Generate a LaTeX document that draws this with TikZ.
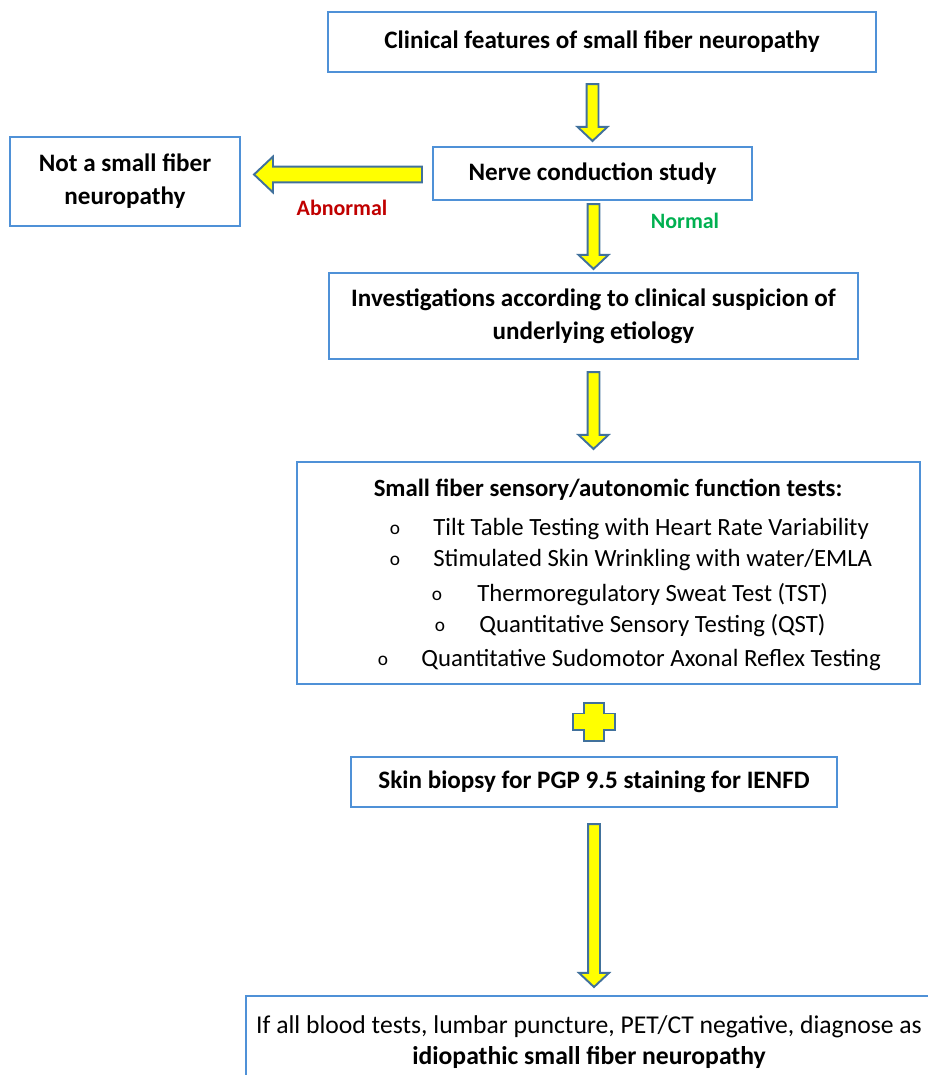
\documentclass[tikz,border=0pt]{standalone}
\usepackage{fontspec}
\setmainfont{Carlito}
\usetikzlibrary{positioning,calc}

\definecolor{boxblue}{RGB}{79,145,215}
\definecolor{arrowblue}{RGB}{65,113,156}
\definecolor{arrowyellow}{RGB}{255,255,0}
\definecolor{abnred}{RGB}{192,0,0}
\definecolor{normgreen}{RGB}{0,176,80}

\tikzset{
  stepbox/.style={draw=boxblue, line width=1.2pt, align=center, inner sep=2pt,
    font=\fontsize{14.3}{18.7}\selectfont\bfseries},
  blockarrow/.style={draw=arrowblue, fill=arrowyellow, line width=1.1pt, line join=miter},
  itemtxt/.style={anchor=base west, inner sep=0pt, font=\fontsize{14.1}{17}\selectfont},
  bullet/.style={anchor=base, inner sep=0pt, font=\fontsize{11}{13}\selectfont},
}

% yellow block arrow pointing down, #1 = top, #2 = tip
\newcommand\blockdown[2]{%
  \filldraw[blockarrow] let \p1=(#1), \p2=(#2) in
    (\x2-3.4pt,\y1) -- (\x2+3.4pt,\y1) -- (\x2+3.4pt,\y2+8pt) -- (\x2+8.5pt,\y2+8pt)
    -- (\x2,\y2) -- (\x2-8.5pt,\y2+8pt) -- (\x2-3.4pt,\y2+8pt) -- cycle;}
% yellow block arrow pointing left, #1 = tail, #2 = tip
\newcommand\blockleft[2]{%
  \filldraw[blockarrow] let \p1=(#1), \p2=(#2) in
    (\x1,\y1+4.5pt) -- (\x2+10.8pt,\y1+4.5pt) -- (\x2+10.8pt,\y1+10.2pt) -- (\x2,\y1)
    -- (\x2+10.8pt,\y1-10.2pt) -- (\x2+10.8pt,\y1-4.5pt) -- (\x1,\y1-4.5pt) -- cycle;}

\begin{document}
\begin{tikzpicture}[x=0.02cm, y=-0.02cm]
\useasboundingbox (0,0) rectangle (928,1075);
\clip (0,0) rectangle (928,1075);

% boxes
\node[stepbox, minimum width=10.96cm, minimum height=1.2cm] (clin) at (602,42) {Clinical features of small fiber neuropathy};
\node[stepbox, minimum width=6.38cm, minimum height=1.06cm] (ncs) at (592.5,173.5) {Nerve conduction study};
\node[stepbox, minimum width=4.6cm, minimum height=1.78cm] (notsfn) at (125,181.5) {Not a small fiber\\neuropathy};
\node[stepbox, minimum width=10.58cm, minimum height=1.72cm] (invest) at (593.5,316) {Investigations according to clinical suspicion of\\underlying etiology};
\node[stepbox, minimum width=12.46cm, minimum height=4.44cm] (tests) at (608.5,573) {};
\node[stepbox, minimum width=9.72cm, minimum height=1.0cm] (biopsy) at (594,782) {Skin biopsy for PGP 9.5 staining for IENFD};
\node[stepbox, anchor=north west, minimum width=13.72cm, minimum height=1.84cm,
  font=\fontsize{14.6}{17.6}\selectfont] (final) at (245,995)
  {If all blood tests, lumbar puncture, PET/CT negative, diagnose as\\\textbf{idiopathic small fiber neuropathy}};

% test list
\node[anchor=base, inner sep=0pt, font=\fontsize{14.1}{17}\selectfont\bfseries] (testhead) at (608,496) {Small fiber sensory/autonomic function tests:};
\node[bullet] (b1) at (395,534) {o}; \node[itemtxt] (t1) at (433,535) {Tilt Table Testing with Heart Rate Variability};
\node[bullet] (b2) at (395,565) {o}; \node[itemtxt] (t2) at (433,566) {Stimulated Skin Wrinkling with water/EMLA};
\node[bullet] (b3) at (437,600) {o}; \node[itemtxt] (t3) at (477,601) {Thermoregulatory Sweat Test (TST)};
\node[bullet] (b4) at (440,631) {o}; \node[itemtxt] (t4) at (479,632) {Quantitative Sensory Testing (QST)};
\node[bullet] (b5) at (383,665) {o}; \node[itemtxt] (t5) at (421,666) {Quantitative Sudomotor Axonal Reflex Testing};

% arrows
\blockdown{$(clin.south)+(0,11)$}{$(ncs.north)+(0,-5)$}
\blockleft{$(ncs.west)+(-10,1)$}{$(notsfn.east)+(13,-6)$}
\blockdown{$(ncs.south)+(0,3)$}{$(invest.north)+(0,-3)$}
\blockdown{$(invest.south)+(0,12)$}{$(invest.south |- tests.north)+(0,-12)$}
\blockdown{$(biopsy.south)+(0,16)$}{$(biopsy.south |- final.north)+(0,-8)$}

\node[text=abnred, font=\fontsize{12.5}{14}\selectfont\bfseries] (abn) at (342,208) {Abnormal};
\node[text=normgreen, font=\fontsize{12.5}{14}\selectfont\bfseries] (norm) at (685,221) {Normal};

% plus sign
\coordinate (plus) at ($(biopsy.north)+(0,-34)$);
\filldraw[blockarrow] let \p1=(plus) in
  (\x1-5.7pt,\y1+10.8pt) -- (\x1+5.7pt,\y1+10.8pt) -- (\x1+5.7pt,\y1+4.8pt) -- (\x1+11.9pt,\y1+4.8pt)
  -- (\x1+11.9pt,\y1-4.8pt) -- (\x1+5.7pt,\y1-4.8pt) -- (\x1+5.7pt,\y1-10.8pt) -- (\x1-5.7pt,\y1-10.8pt)
  -- (\x1-5.7pt,\y1-4.8pt) -- (\x1-11.9pt,\y1-4.8pt) -- (\x1-11.9pt,\y1+4.8pt) -- (\x1-5.7pt,\y1+4.8pt) -- cycle;
\end{tikzpicture}
\end{document}
